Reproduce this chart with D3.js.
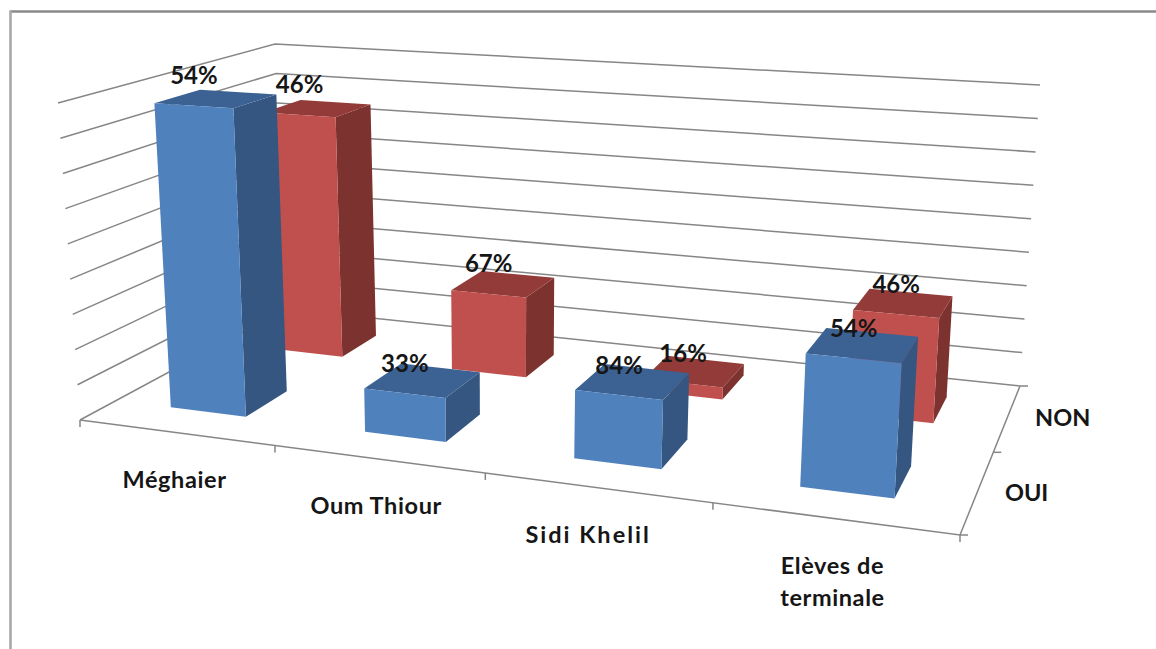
<!DOCTYPE html>
<html>
<head>
<meta charset="utf-8">
<script src="https://cdn.jsdelivr.net/npm/d3@7"></script>
<style>
  html, body { margin: 0; padding: 0; background: #fff; }
  svg { display: block; }
  text { font-family: Lato, "Open Sans", sans-serif; font-weight: 700; fill: #161616; }
</style>
</head>
<body>
<svg id="chart" width="1156" height="649"></svg>
<script>
// Respondents per area; the printed percentages are each answer's share of its area.
const categories = ["Méghaier", "Oum Thiour", "Sidi Khelil", "Elèves de terminale"];
const seriesNames = ["OUI", "NON"];
const ouiCounts = [880, 121, 183, 344];
const nonCounts = [750, 242, 35, 297];
const gridTicks = d3.range(0, 1000, 100);

const width = 1156, height = 649;
const svg = d3.select("#chart").attr("viewBox", [0, 0, width, height]);

// Perspective box of the 3D plot: floor and ceiling quads, as front-left,
// front-right, back-right, back-left screen corners.
const floorQuad = [[80, 420], [960, 535], [1020, 386], [286, 309]];
const ceilQuad  = [[58, 103], [982, 164], [1040, 85], [275, 44]];

function homography(q) {
  const [[x0, y0], [x1, y1], [x2, y2], [x3, y3]] = q;
  const dx1 = x1 - x2, dx2 = x3 - x2, sx = x0 - x1 + x2 - x3;
  const dy1 = y1 - y2, dy2 = y3 - y2, sy = y0 - y1 + y2 - y3;
  const den = dx1 * dy2 - dx2 * dy1;
  const g = (sx * dy2 - dx2 * sy) / den;
  const h = (dx1 * sy - sx * dy1) / den;
  const a = x1 - x0 + g * x1, b = x3 - x0 + h * x3;
  const d = y1 - y0 + g * y1, e = y3 - y0 + h * y3;
  return (u, v) => {
    const w = g * u + h * v + 1;
    return [(a * u + b * v + x0) / w, (d * u + e * v + y0) / w];
  };
}
const floorAt = homography(floorQuad);
const ceilAt = homography(ceilQuad);

const xBand = d3.scaleBand().domain(categories).range([0, 1]);
const zBand = d3.scaleBand().domain(seriesNames).range([0, 1]);
const yScale = d3.scaleLinear().domain([0, 900]).range([0, 1]);

const barWidth = 0.395, barDepth = 0.40;
const barShift = -0.008;

// Projects a box coordinate: u along the categories, v into the depth, t up the height.
function project(u, v, t) {
  const f = floorAt(u, v), c = ceilAt(u, v);
  return [f[0] + (c[0] - f[0]) * t, f[1] + (c[1] - f[1]) * t];
}
const line = d3.line();
const gridColor = "#868686";

// Outer frame, only the top and left sides are visible
svg.append("line").attr("x1", 10).attr("y1", 11.5).attr("x2", width).attr("y2", 11.5)
  .attr("stroke", "#8a8a8a").attr("stroke-width", 2.4);
svg.append("line").attr("x1", 10.5).attr("y1", 10.5).attr("x2", 10.5).attr("y2", height)
  .attr("stroke", "#a8a8a8").attr("stroke-width", 2.6);

// Gridlines on the left and back walls
const walls = svg.append("g").attr("fill", "none").attr("stroke", gridColor).attr("stroke-width", 1.5);
gridTicks.forEach(k => {
  const t = yScale(k);
  walls.append("path").attr("d", line([project(0, 0, t), project(0, 1, t), project(1, 1, t)]));
});

// Floor edges with their tick marks
const axes = svg.append("g").attr("fill", "none").attr("stroke", gridColor).attr("stroke-width", 1.5);
axes.append("path").attr("d", line([floorAt(0, 0), floorAt(1, 0), floorAt(1, 1)]));
const xEdges = categories.map(c => xBand(c)).concat(1);
xEdges.forEach(u => {
  const p = floorAt(u, 0);
  axes.append("path").attr("d", line([p, [p[0], p[1] + 7]]));
});
const zEdges = seriesNames.map(s => zBand(s)).concat(1);
zEdges.forEach(v => {
  const p = floorAt(1, v);
  axes.append("path").attr("d", line([p, [p[0] + 8, p[1]]]));
});

// Bars: the back row first so the front row covers it
const palette = {
  OUI: { front: "#4f81bd", side: "#345680", top: "#3c6294" },
  NON: { front: "#c0504d", side: "#7c322f", top: "#923b38" }
};
const rows = [
  { name: "NON", values: nonCounts, other: ouiCounts },
  { name: "OUI", values: ouiCounts, other: nonCounts }
];
const percent = (a, b) => `${Math.round(100 * a / (a + b))}%`;
const labelLayer = [];

rows.forEach(row => {
  const g = svg.append("g").attr("class", `row-${row.name}`);
  const colors = palette[row.name];
  const v0 = zBand(row.name) + zBand.bandwidth() * (1 - barDepth) / 2;
  const v1 = v0 + zBand.bandwidth() * barDepth;
  categories.forEach((cat, i) => {
    const u0 = xBand(cat) + xBand.bandwidth() * (1 - barWidth) / 2 + barShift * xBand.bandwidth();
    const u1 = u0 + xBand.bandwidth() * barWidth;
    const t = yScale(row.values[i]);
    const fbl = project(u0, v0, 0), fbr = project(u1, v0, 0);
    const ftl = project(u0, v0, t), ftr = project(u1, v0, t);
    const bbr = project(u1, v1, 0), btr = project(u1, v1, t), btl = project(u0, v1, t);
    g.append("path").attr("d", line([fbr, bbr, btr, ftr]) + "Z").attr("fill", colors.side);
    g.append("path").attr("d", line([ftl, ftr, btr, btl]) + "Z").attr("fill", colors.top);
    g.append("path").attr("d", line([fbl, fbr, ftr, ftl]) + "Z").attr("fill", colors.front);
    labelLayer.push({
      x: (ftl[0] + ftr[0]) / 2,
      y: (ftl[1] + ftr[1]) / 2 - 31,
      text: percent(row.values[i], row.other[i])
    });
  });
});

// Percentages sit above each bar's front top edge
svg.append("g").selectAll("text").data(labelLayer).join("text")
  .attr("x", d => d.x).attr("y", d => d.y)
  .attr("text-anchor", "middle").attr("dominant-baseline", "central")
  .attr("font-size", 24).text(d => d.text);

// Category names below the front edge, long names wrapped on two lines
const categoryNudge = [1, 0, -7, 0];
const categorySpacing = [0.6, 0.6, 2, 0.6];
categories.forEach((cat, i) => {
  const a = floorAt(xEdges[i], 0), b = floorAt(xEdges[i + 1], 0);
  const words = cat.length > 12 ? [cat.split(" ").slice(0, 2).join(" "), cat.split(" ").slice(2).join(" ")] : [cat];
  const text = svg.append("text").attr("text-anchor", "middle").attr("font-size", 23.5)
    .attr("letter-spacing", categorySpacing[i]);
  words.forEach((w, j) => {
    text.append("tspan")
      .attr("x", (a[0] + b[0]) / 2 - 4 + categoryNudge[i])
      .attr("y", (a[1] + b[1]) / 2 + 55 + j * 32)
      .text(w);
  });
});

// Series names beside the right edge
const seriesNudge = [-2, 4];
seriesNames.forEach((s, i) => {
  const a = floorAt(1, zEdges[i]), b = floorAt(1, zEdges[i + 1]);
  svg.append("text").attr("x", (a[0] + b[0]) / 2 + 52 + seriesNudge[i]).attr("y", (a[1] + b[1]) / 2 + 7)
    .attr("text-anchor", "middle").attr("font-size", 23.5).text(s);
});
</script>
</body>
</html>
